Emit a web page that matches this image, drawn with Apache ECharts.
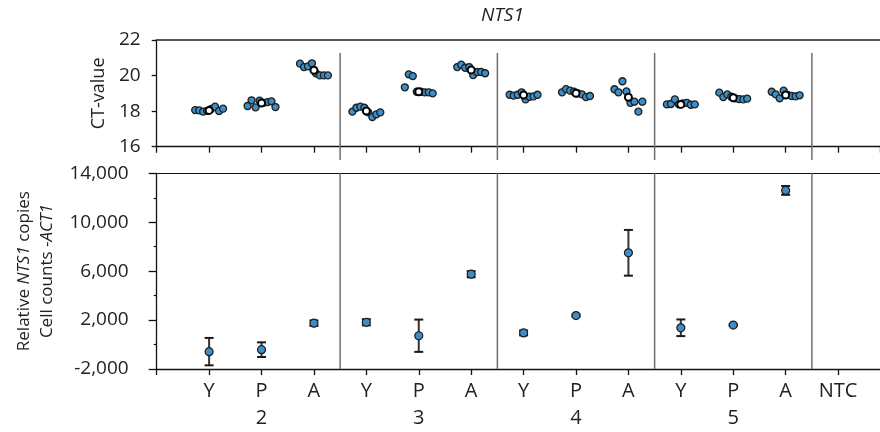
<!DOCTYPE html>
<html>
<head>
<meta charset="utf-8">
<title>NTS1</title>
<script src="https://cdn.jsdelivr.net/npm/echarts@6/dist/echarts.min.js"></script>
<style>
  html, body { margin: 0; padding: 0; background: #fff; }
  #chart { width: 880px; height: 432px; }
</style>
</head>
<body>
<div id="chart"></div>
<script>
const categories = ['Y', 'P', 'A', 'Y', 'P', 'A', 'Y', 'P', 'A', 'Y', 'P', 'A', 'NTC'];
const groupNames = ['2', '3', '4', '5'];

// CT value of each replicate, left to right within a sample
const ctReplicates = [
  [18.06, 18.04, 17.97, 18.02, 18.12, 18.25, 18.01, 18.14],
  [18.29, 18.61, 18.21, 18.59, 18.47, 18.51, 18.55, 18.23],
  [20.67, 20.48, 20.52, 20.69, 20.13, 20.01, 20.01, 20.01],
  [17.97, 18.19, 18.25, 18.19, 17.93, 17.67, 17.82, 17.93],
  [19.34, 20.07, 19.97, 19.09, 19.09, 19.06, 19.06, 19.00],
  [20.48, 20.61, 20.44, 20.48, 20.03, 20.20, 20.20, 20.13],
  [18.92, 18.87, 18.92, 19.06, 18.66, 18.81, 18.83, 18.92],
  [19.06, 19.24, 19.15, 19.09, 19.00, 18.94, 18.79, 18.85],
  [19.23, 19.06, 19.68, 19.11, 18.47, 18.53, 17.97, 18.53],
  [18.38, 18.40, 18.66, 18.38, 18.44, 18.47, 18.36, 18.38],
  [19.04, 18.79, 18.94, 18.81, 18.72, 18.68, 18.66, 18.70],
  [19.09, 18.94, 18.72, 19.15, 18.91, 18.85, 18.83, 18.89],
  []
];
const ctMeans = [18.04, 18.46, 20.30, 18.01, 19.09, 20.31, 18.91, 19.00, 18.78, 18.38, 18.75, 18.91, null];

// relative NTS1 copies: mean and error
const copyMeans = [-580, -420, 1750, 1820, 720, 5750, 950, 2370, 7500, 1370, 1590, 12600, null];
const copyErrors = [1120, 600, 220, 250, 1320, 250, 200, 80, 1870, 680, 60, 360, null];

const separators = [2.5, 5.5, 8.5, 11.5];

const FONT = 'Open Sans';
const TEXT = '#222';
const BLUE = '#3b8ec7';

const spread = 0.076;
const replicatePoints = [];
ctReplicates.forEach((vals, i) => {
  vals.forEach((v, k) => {
    replicatePoints.push([i + (k - (vals.length - 1) / 2) * spread, v]);
  });
});
const meanPoints = ctMeans.map((v, i) => [i, v]).filter(d => d[1] != null);
const copyPoints = copyMeans.map((v, i) => [i, v, copyErrors[i]]).filter(d => d[1] != null);

const separatorItem = (params, api) => {
  const a = api.coord([api.value(0), api.value(1)]);
  const b = api.coord([api.value(0), api.value(2)]);
  return {
    type: 'line',
    shape: { x1: a[0], y1: a[1], x2: b[0], y2: b[1] },
    style: { stroke: '#707070', lineWidth: 1.5 }
  };
};

const errorBarItem = (params, api) => {
  const x = api.value(0);
  const m = api.value(1);
  const e = api.value(2);
  const top = api.coord([x, m + e]);
  const bot = api.coord([x, m - e]);
  const w = 4.5;
  const st = { stroke: '#1a1a1a', lineWidth: 2 };
  return {
    type: 'group',
    children: [
      { type: 'line', shape: { x1: top[0], y1: top[1], x2: bot[0], y2: bot[1] }, style: { stroke: '#333', lineWidth: 2 } },
      { type: 'line', shape: { x1: top[0] - w, y1: top[1], x2: top[0] + w, y2: top[1] }, style: st },
      { type: 'line', shape: { x1: bot[0] - w, y1: bot[1], x2: bot[0] + w, y2: bot[1] }, style: st }
    ]
  };
};

const xLabel = (v) => {
  if (Math.abs(v - Math.round(v)) > 1e-6) return '';
  const i = Math.round(v);
  if (i < 0 || i >= categories.length) return '';
  if (i % 3 === 1 && groupNames[(i - 1) / 3]) return categories[i] + '\n' + groupNames[(i - 1) / 3];
  return categories[i];
};

const baseX = {
  type: 'value',
  min: -1,
  max: 12.8,
  interval: 1,
  splitLine: { show: false }
};

const chart = echarts.init(document.getElementById('chart'));
chart.setOption({
  animation: false,
  title: {
    text: 'NTS1',
    left: 476,
    top: 1,
    textStyle: { fontFamily: FONT, fontSize: 19, fontStyle: 'italic', fontWeight: 'normal', color: TEXT }
  },
  grid: [
    { left: 156.7, right: 0, top: 40, height: 106.7 },
    { left: 156.7, right: 0, top: 173.3, height: 199.4 }
  ],
  xAxis: [
    Object.assign({}, baseX, {
      gridIndex: 0,
      position: 'bottom',
      axisLine: { onZero: false, lineStyle: { color: '#111', width: 1.3 } },
      axisTick: { length: 6, lineStyle: { color: '#111', width: 1.3 } },
      axisLabel: { show: false }
    }),
    Object.assign({}, baseX, {
      gridIndex: 0,
      position: 'top',
      axisLine: { onZero: false, lineStyle: { color: '#555', width: 2 } },
      axisTick: { show: false },
      axisLabel: { show: false }
    }),
    Object.assign({}, baseX, {
      gridIndex: 1,
      position: 'bottom',
      axisLine: { onZero: false, lineStyle: { color: '#111', width: 1.3 } },
      axisTick: { length: 6, lineStyle: { color: '#111', width: 1.3 } },
      axisLabel: {
        formatter: xLabel,
        margin: 9,
        fontFamily: FONT,
        fontSize: 20,
        lineHeight: 27,
        color: TEXT,
        showMaxLabel: false
      }
    }),
    Object.assign({}, baseX, {
      gridIndex: 1,
      position: 'top',
      axisLine: { onZero: false, lineStyle: { color: '#111', width: 1.2 } },
      axisTick: { show: false },
      axisLabel: { show: false }
    })
  ],
  yAxis: [
    {
      type: 'value',
      gridIndex: 0,
      min: 16,
      max: 22,
      interval: 2,
      splitLine: { show: false },
      axisLine: { show: true, onZero: false, lineStyle: { color: '#111', width: 1.3 } },
      axisTick: { show: true, length: 5, lineStyle: { color: '#111', width: 1.3 } },
      axisLabel: { fontFamily: FONT, fontSize: 19, color: TEXT, margin: 16 },
      name: 'CT-value',
      nameLocation: 'middle',
      nameGap: 46,
      nameTextStyle: { fontFamily: FONT, fontSize: 18, color: TEXT }
    },
    {
      type: 'value',
      gridIndex: 1,
      min: -2000,
      max: 14000,
      interval: 4000,
      splitLine: { show: false },
      axisLine: { show: true, onZero: false, lineStyle: { color: '#111', width: 1.3 } },
      axisTick: { show: true, length: 8, lineStyle: { color: '#111', width: 1.3 } },
      minorTick: { show: true, splitNumber: 2, length: 3, lineStyle: { color: '#111', width: 1.2 } },
      axisLabel: {
        fontFamily: FONT,
        fontSize: 19,
        color: TEXT,
        margin: 28,
        formatter: (v) => v.toLocaleString('en-US')
      },
      name: 'Relative {i|NTS1} copies\nCell counts -{i|ACT1}',
      nameLocation: 'middle',
      nameGap: 98,
      nameTextStyle: {
        fontFamily: FONT,
        fontSize: 17,
        color: TEXT,
        lineHeight: 23,
        rich: {
          i: { fontFamily: FONT, fontSize: 17, color: TEXT, fontStyle: 'italic', lineHeight: 23 }
        }
      }
    }
  ],
  series: [
    {
      type: 'custom',
      xAxisIndex: 0,
      yAxisIndex: 0,
      renderItem: separatorItem,
      data: separators.map(x => [x, 21.27, 15.25]),
      z: 1,
      silent: true
    },
    {
      type: 'custom',
      xAxisIndex: 2,
      yAxisIndex: 1,
      renderItem: separatorItem,
      data: separators.map(x => [x, 14000, -2000]),
      z: 1,
      silent: true
    },
    {
      name: 'CT replicates',
      type: 'scatter',
      xAxisIndex: 0,
      yAxisIndex: 0,
      symbolSize: 7,
      itemStyle: { color: BLUE, borderColor: '#1e1e1e', borderWidth: 1.3, opacity: 1 },
      data: replicatePoints,
      z: 3
    },
    {
      name: 'CT mean',
      type: 'scatter',
      xAxisIndex: 0,
      yAxisIndex: 0,
      symbolSize: 7,
      itemStyle: { color: '#fff', borderColor: '#000', borderWidth: 2, opacity: 1 },
      data: meanPoints,
      z: 4
    },
    {
      name: 'Error',
      type: 'custom',
      xAxisIndex: 2,
      yAxisIndex: 1,
      renderItem: errorBarItem,
      encode: { x: 0, y: 1 },
      data: copyPoints,
      z: 3
    },
    {
      name: 'Relative copies',
      type: 'scatter',
      xAxisIndex: 2,
      yAxisIndex: 1,
      symbolSize: 8,
      itemStyle: { color: BLUE, borderColor: '#1e1e1e', borderWidth: 1.2, opacity: 1 },
      data: copyPoints.map(d => [d[0], d[1]]),
      z: 4
    }
  ]
});

window.addEventListener('resize', () => chart.resize());
</script>
</body>
</html>
